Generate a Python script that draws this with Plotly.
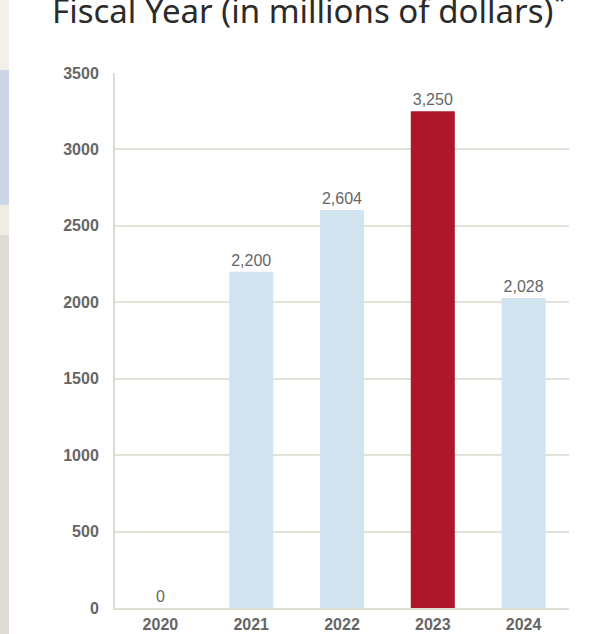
import plotly.graph_objects as go

years = ["2020", "2021", "2022", "2023", "2024"]
values = [0, 2200, 2604, 3250, 2028]
labels = ["0", "2,200", "2,604", "3,250", "2,028"]
colors = ["#d2e4f0", "#d2e4f0", "#d2e4f0", "#ad1729", "#d2e4f0"]
yticks = [0, 500, 1000, 1500, 2000, 2500, 3000, 3500]

W, H = 599, 634
L, R, T, B = 115, 30, 73, 26
pw = W - L - R
ph = H - T - B

def px(x):
    return (x - L) / pw

def py(y):
    return (H - B - y) / ph

tickfont = dict(family="Arial, Liberation Sans", size=16, color="#666666", weight="bold")

fig = go.Figure()
fig.add_trace(go.Bar(
    x=years, y=values, marker=dict(color=colors, line=dict(width=0)),
    text=labels, textposition="outside", cliponaxis=False,
    textfont=dict(family="Arial, Liberation Sans", size=16, color="#666666"),
    hoverinfo="skip",
))

shapes = []
# decorative background strip on the left edge
strip = [(0, 70, "#f3f0e9"), (70, 205, "#cbd6e6"), (205, 235, "#f0eee0"), (235, 634, "#dfdbd7")]
for y0, y1, c in strip:
    shapes.append(dict(type="rect", xref="paper", yref="paper",
                       x0=px(0), x1=px(9), y0=py(y1), y1=py(y0),
                       fillcolor=c, line=dict(width=0), layer="below"))

fig.update_layout(
    width=W, height=H,
    margin=dict(l=L, r=R, t=T, b=B, pad=0, autoexpand=False),
    paper_bgcolor="white", plot_bgcolor="white",
    showlegend=False,
    bargap=0.515,
    shapes=shapes,
    annotations=[dict(
        text="Fiscal Year (in millions of dollars)<sup>*</sup>",
        xref="paper", yref="paper", x=px(309), y=py(35),
        xanchor="center", yanchor="bottom", showarrow=False,
        font=dict(family="Noto Sans", size=33, color="#2b2b2b"),
    )],
    xaxis=dict(
        showgrid=False, showline=True, linecolor="#dcdcd2", linewidth=2,
        ticks="", tickfont=tickfont, ticklabelstandoff=1, fixedrange=True,
        automargin=False,
    ),
    yaxis=dict(
        range=[0, 3500], tickvals=yticks, ticktext=[str(v) for v in yticks],
        showgrid=True, gridcolor="#e2e2d8", gridwidth=1.5,
        showline=True, linecolor="#dcdcd2", linewidth=2, zeroline=False,
        ticks="", tickfont=tickfont, ticklabelstandoff=11, fixedrange=True,
        automargin=False,
    ),
)

fig.write_html("out.html", config={"displayModeBar": False},
               post_script="document.body.style.margin='0';document.body.style.padding='0';")
